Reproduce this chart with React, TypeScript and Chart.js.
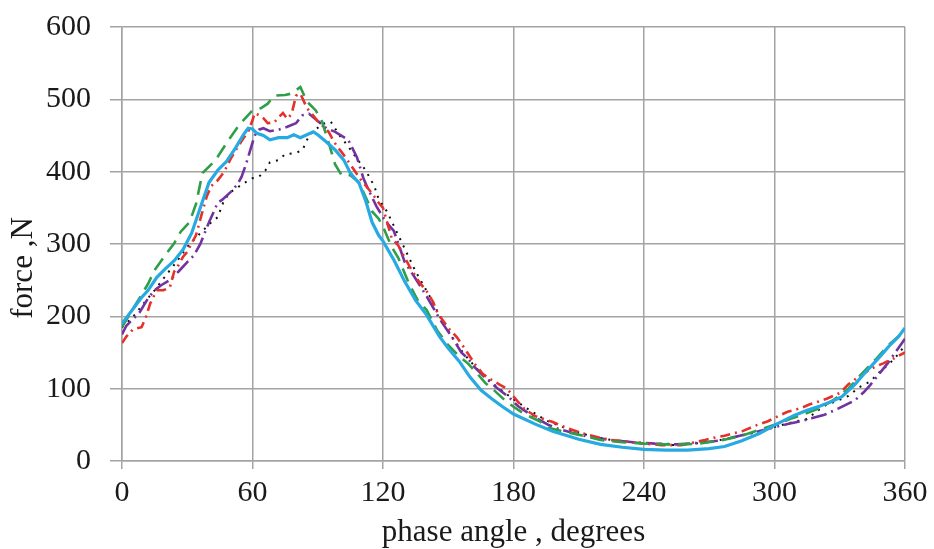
import React, { useEffect, useRef } from "react";
import { Chart, registerables } from "chart.js";

Chart.register(...registerables);

const xTickLabels = ["0", "60", "120", "180", "240", "300", "360"];
const yTickLabels = ["0", "100", "200", "300", "400", "500", "600"];

// Solid light-blue series: [phase angle, force]
const blueX = [0, 3, 6, 9, 12, 16, 20, 24, 28, 32, 36, 40, 44, 48, 52, 56, 58, 60, 62, 65, 68, 72, 76, 79, 82, 85, 88, 90, 94, 98, 102, 105, 109, 112, 115, 118, 120, 125, 130, 135, 140, 146, 150, 155, 160, 165, 170, 175, 180, 190, 198, 210, 220, 230, 240, 250, 260, 270, 277, 285, 293, 301, 309, 315, 321, 326, 331, 337, 341, 345, 349, 353, 357, 360];
const blueY = [190, 202, 214, 226, 236, 254, 266, 277, 292, 315, 350, 385, 402, 414, 432, 452, 460, 459, 453, 450, 444, 447, 447, 451, 447, 451, 455, 451, 441, 430, 416, 398, 384, 360, 330, 312, 304, 278, 248, 222, 202, 172, 156, 138, 116, 98, 86, 75, 65, 51, 41, 30, 23, 19, 16, 15, 15, 17, 20, 28, 38, 51, 63, 70, 76, 82, 89, 106, 120, 133, 146, 160, 172, 184];

// Green long-dash series
const greenX = [0, 6, 12, 15, 20, 24, 27, 31, 34, 37, 43, 46, 50, 54, 58, 60, 64, 67, 70, 75, 78, 82, 85, 89, 92, 95, 98, 101, 105, 109, 112, 115, 118, 120, 124, 127, 132, 136, 140, 145, 150, 155, 159, 163, 167, 171, 176, 180, 185, 192, 196, 204, 212, 220, 230, 240, 250, 258, 265, 275, 285, 295, 302, 307, 313, 320, 327, 334, 340, 347, 353, 360];
const greenY = [185, 215, 245, 264, 285, 301, 317, 330, 355, 398, 416, 430, 448, 465, 478, 485, 488, 494, 505, 506, 508, 517, 497, 485, 469, 440, 410, 395, 395, 385, 365, 345, 335, 324, 296, 281, 245, 222, 209, 180, 160, 145, 135, 122, 108, 98, 84, 75, 65, 55, 46, 40, 35, 29, 26, 24, 23, 23, 24, 28, 35, 45, 52, 58, 64, 72, 84, 100, 120, 142, 162, 180];

// Red dash-dot series
const redX = [0, 2, 5, 9, 11, 13, 16, 19, 22, 24, 26, 28, 30, 32, 34, 37, 39, 41, 44, 47, 50, 53, 56, 58, 60, 61, 63, 65, 67, 70, 72, 74, 76, 78, 80, 82, 85, 90, 95, 97, 99, 101, 105, 110, 115, 118, 120, 124, 127, 132, 136, 140, 143, 145, 150, 154, 157, 162, 166, 170, 174, 177, 182, 185, 190, 194, 198, 205, 212, 220, 225, 232, 240, 248, 257, 262, 268, 272, 277, 281, 285, 289, 293, 297, 301, 306, 312, 316, 320, 324, 330, 334, 338, 342, 346, 350, 355, 360];
const redY = [163, 172, 182, 185, 199, 218, 236, 236, 240, 262, 271, 282, 289, 301, 312, 345, 366, 380, 388, 400, 418, 433, 447, 455, 471, 481, 478, 474, 467, 468, 475, 481, 473, 480, 505, 508, 488, 470, 455, 444, 434, 427, 410, 388, 370, 357, 350, 308, 298, 270, 250, 235, 220, 205, 184, 171, 158, 135, 120, 112, 105, 100, 82, 72, 62, 58, 54, 45, 38, 32, 29, 27, 24, 22, 22, 25, 29, 32, 35, 38, 41, 46, 51, 55, 61, 68, 73, 78, 82, 86, 94, 106, 115, 123, 130, 135, 142, 150];

// Purple long-dash-dot series
const purpleX = [0, 2, 4, 8, 12, 15, 18, 22, 26, 30, 33, 36, 40, 44, 46, 50, 53, 55, 57, 59, 61, 63, 65, 68, 72, 76, 80, 83, 86, 90, 94, 98, 104, 108, 111, 113, 117, 121, 125, 130, 135, 140, 145, 147, 152, 156, 159, 162, 166, 172, 178, 182, 190, 196, 201, 207, 215, 225, 235, 245, 255, 265, 274, 280, 290, 299, 306, 312, 317, 323, 329, 333, 337, 341, 344, 348, 352, 356, 360];
const purpleY = [175, 187, 193, 205, 225, 236, 243, 250, 262, 275, 284, 300, 330, 357, 361, 372, 382, 393, 410, 430, 450, 458, 460, 456, 458, 462, 467, 478, 480, 470, 460, 455, 444, 420, 391, 377, 352, 332, 318, 275, 252, 228, 202, 192, 170, 150, 142, 130, 118, 102, 88, 76, 60, 50, 44, 39, 33, 29, 26, 24, 23, 25, 28, 32, 39, 46, 51, 55, 59, 64, 72, 78, 84, 95, 105, 120, 135, 152, 169];

// Black dotted series
const blackX = [0, 5, 10, 15, 20, 25, 30, 36, 39, 41, 44, 47, 50, 56, 60, 63, 66, 68, 72, 75, 80, 83, 86, 89, 92, 96, 100, 104, 108, 112, 116, 118, 122, 128, 135, 142, 147, 152, 157, 163, 170, 177, 185, 195, 205, 215, 225, 240, 255, 270, 285, 300, 310, 315, 320, 324, 328, 334, 339, 344, 349, 353, 357, 360];
const blackY = [185, 199, 218, 236, 256, 275, 296, 315, 324, 330, 337, 361, 372, 384, 391, 393, 402, 413, 416, 424, 426, 430, 450, 458, 466, 469, 450, 435, 418, 402, 380, 362, 344, 306, 262, 225, 195, 170, 149, 128, 108, 92, 75, 56, 44, 35, 29, 24, 22, 26, 35, 47, 55, 58, 70, 78, 82, 90, 102, 110, 125, 135, 148, 160];

const toPoints = (xs: number[], ys: number[]) => xs.map((x, i) => ({ x, y: ys[i] }));

const FONT = "'Liberation Serif', 'Times New Roman', serif";
const GRID = "#a3a3a3";

const titlePlugin = {
  id: "axisTitles",
  afterDraw(chart: any) {
    const { ctx } = chart;
    ctx.save();
    ctx.fillStyle = "#1a1a1a";
    ctx.font = `31px ${FONT}`;
    ctx.textAlign = "center";
    ctx.textBaseline = "alphabetic";
    ctx.fillText("phase angle , degrees", (chart.chartArea.left + chart.chartArea.right) / 2, 541);
    ctx.translate(32, 268);
    ctx.rotate(-Math.PI / 2);
    ctx.fillText("force ,N", 0, 0);
    ctx.restore();
  },
};

export default function App() {
  const ref = useRef<HTMLCanvasElement>(null);
  useEffect(() => {
    document.body.style.margin = "0";
    const chart = new Chart(ref.current!, {
      type: "line",
      data: {
        datasets: [
          { label: "blue", data: toPoints(blueX, blueY), borderColor: "#27a9e1", borderWidth: 3.2 },
          { label: "green", data: toPoints(greenX, greenY), borderColor: "#2e9e48", borderWidth: 2.6, borderDash: [14, 8] },
          { label: "red", data: toPoints(redX, redY), borderColor: "#e4322b", borderWidth: 2.6, borderDash: [10, 5, 2, 5] },
          { label: "purple", data: toPoints(purpleX, purpleY), borderColor: "#7232a0", borderWidth: 2.6, borderDash: [16, 5, 2, 5] },
          { label: "black", data: toPoints(blackX, blackY), borderColor: "#111111", borderWidth: 2, borderDash: [2, 6] },
        ].map((d) => ({ ...d, pointRadius: 0, tension: 0, fill: false })),
      },
      options: {
        animation: false,
        responsive: false,
        devicePixelRatio: 1,
        layout: { padding: { left: 0, top: 27, right: 29, bottom: 0 } },
        plugins: { legend: { display: false }, tooltip: { enabled: false } },
        scales: {
          x: {
            type: "linear",
            min: 0,
            max: 360,
            afterFit: (s: any) => { s.height = 88; s.paddingLeft = 0; s.paddingRight = 0; },
            ticks: {
              stepSize: 60,
              padding: 6,
              color: "#1a1a1a",
              font: { family: FONT, size: 30 },
              callback: (v: any) => xTickLabels[Math.round(Number(v) / 60)] ?? "",
            },
            grid: { color: GRID, lineWidth: 1.5, tickLength: 8, tickColor: GRID },
            border: { color: GRID, width: 1.5 },
          },
          y: {
            min: 0,
            max: 600,
            afterFit: (s: any) => { s.width = 122; s.paddingTop = 0; s.paddingBottom = 0; },
            ticks: {
              stepSize: 100,
              padding: 19,
              color: "#1a1a1a",
              font: { family: FONT, size: 30 },
              callback: (v: any) => yTickLabels[Math.round(Number(v) / 100)] ?? "",
            },
            grid: { color: GRID, lineWidth: 1.5, tickLength: 12, tickColor: GRID },
            border: { color: GRID, width: 1.5 },
          },
        },
      },
      plugins: [titlePlugin],
    });
    return () => chart.destroy();
  }, []);
  return (
    <div style={{ position: "absolute", left: 0, top: 0, width: 934, height: 549, background: "#fff" }}>
      <canvas ref={ref} width={934} height={549} />
    </div>
  );
}
